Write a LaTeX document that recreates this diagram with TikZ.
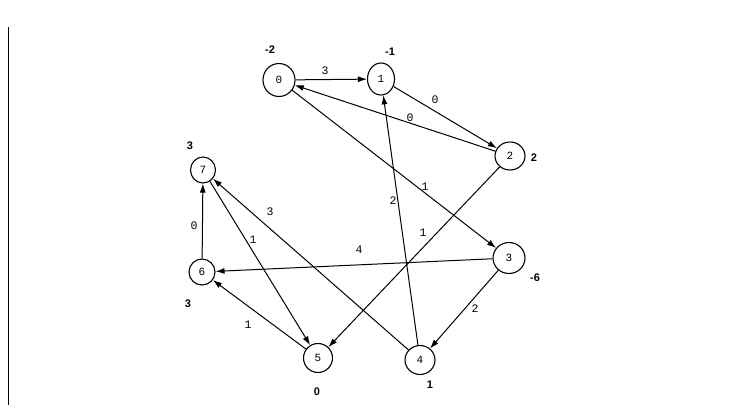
\documentclass[tikz,border=0pt]{standalone}
\usepackage{fontspec}
\setmainfont{Liberation Sans}
\newfontfamily\monofont{Liberation Mono}
\usetikzlibrary{arrows.meta,shapes.geometric}
\begin{document}
\begin{tikzpicture}[x=1pt,y=-1pt,
  vert/.style={draw,ellipse,line width=1.1pt,inner sep=0pt,font=\monofont\fontsize{11}{11}\selectfont},
  edge/.style={line width=1pt,-{Latex[length=9pt,width=6pt]}},
  elab/.style={font=\monofont\fontsize{11.5}{11.5}\selectfont,inner sep=0pt},
  wlab/.style={font=\bfseries\fontsize{11}{11}\selectfont,inner sep=0pt}]
\useasboundingbox (0,0) rectangle (744,416);
\draw[line width=0.8pt] (8,27) -- (8,405);
\node[vert,minimum width=32pt,minimum height=33pt] (n0) at (279,80) {0};
\node[vert,minimum width=27pt,minimum height=32pt] (n1) at (381,79) {1};
\node[vert,minimum width=30pt,minimum height=28pt] (n2) at (510,156) {2};
\node[vert,minimum width=32pt,minimum height=31pt] (n3) at (509,258) {3};
\node[vert,minimum width=30pt,minimum height=29pt] (n4) at (420,360) {4};
\node[vert,minimum width=29pt,minimum height=29pt] (n5) at (318,358) {5};
\node[vert,minimum width=26pt,minimum height=26pt] (n6) at (202,272) {6};
\node[vert,minimum width=25pt,minimum height=26pt] (n7) at (203,170) {7};
\draw[edge] (n0) -- (n1);
\draw[edge] (n1) -- (n2);
\draw[edge] (n2) -- (n0);
\draw[edge] (n0) -- (n3);
\draw[edge] (n2) -- (n5);
\draw[edge] (n4) -- (n1);
\draw[edge] (n3) -- (n6);
\draw[edge] (n3) -- (n4);
\draw[edge] (n4) -- (n7);
\draw[edge] (n7) -- (n5);
\draw[edge] (n6) -- (n7);
\draw[edge] (n5) -- (n6);
\node[elab] (l01) at (325,71) {3};
\node[elab] (l12) at (435,100) {0};
\node[elab] (l20) at (410,118) {0};
\node[elab] (l03) at (425,187) {1};
\node[elab] (l41) at (393,201) {2};
\node[elab] (l25) at (423,233) {1};
\node[elab] (l36) at (359,250) {4};
\node[elab] (l47) at (270,212) {3};
\node[elab] (l75) at (253,240) {1};
\node[elab] (l67) at (194,226) {0};
\node[elab] (l56) at (248,325) {1};
\node[elab] (l34) at (475,309) {2};
\node[wlab] (w0) at (270,50) {-2};
\node[wlab] (w1) at (390,52) {-1};
\node[wlab] (w2) at (534,158) {2};
\node[wlab] (w7) at (190,146) {3};
\node[wlab] (w3) at (535,278) {-6};
\node[wlab] (w6) at (188,304) {3};
\node[wlab] (w5) at (317,392) {0};
\node[wlab] (w4) at (430,385) {1};
\end{tikzpicture}
\end{document}
